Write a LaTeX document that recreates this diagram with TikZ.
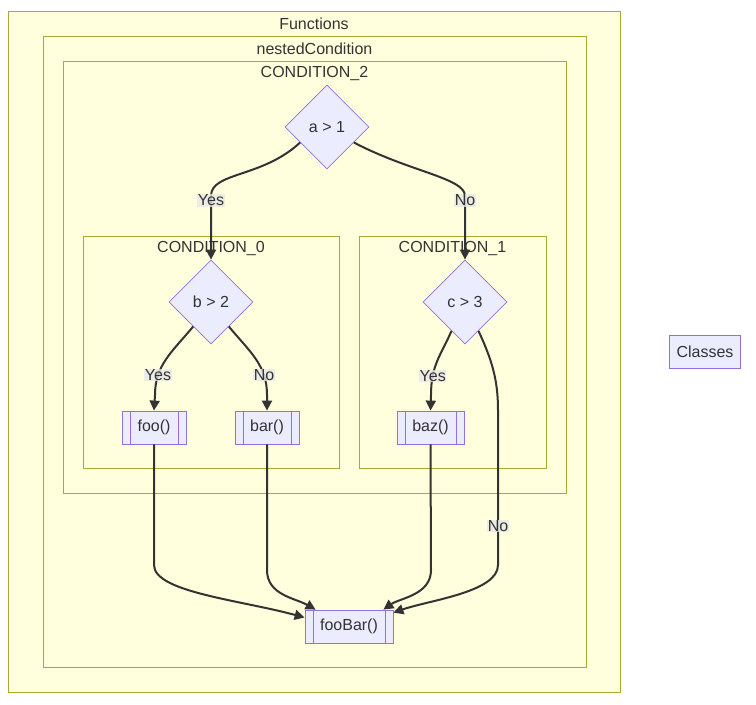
\documentclass[tikz,border=0pt]{standalone}
\usepackage{fontspec}
\setmainfont{Liberation Sans}
\usetikzlibrary{positioning,arrows.meta,shapes.geometric}
\definecolor{clusterfill}{HTML}{FFFFDE}
\definecolor{clusterline}{HTML}{AAAA33}
\definecolor{nodefill}{HTML}{ECECFF}
\definecolor{nodeline}{HTML}{9370DB}
\definecolor{ink}{HTML}{333333}
\definecolor{lblfill}{HTML}{E8E8E8}

\begin{document}
\begin{tikzpicture}[
  x=1pt, y=-1pt,
  font=\fontsize{16}{19}\selectfont, text=ink,
  cluster/.style={draw=clusterline, fill=clusterfill, line width=1pt, inner sep=0pt},
  title/.style={inner sep=0pt},
  cond/.style={diamond, draw=nodeline, fill=nodefill, line width=0.8pt, minimum width=84pt, minimum height=84pt, inner sep=0pt},
  sub/.style={draw=nodeline, fill=nodefill, line width=0.8pt, minimum height=33pt, inner sep=0pt,
    path picture={\draw[nodeline, line width=0.8pt]
      ([xshift=8pt]path picture bounding box.north west) -- ([xshift=8pt]path picture bounding box.south west)
      ([xshift=-8pt]path picture bounding box.north east) -- ([xshift=-8pt]path picture bounding box.south east);}},
  lbl/.style={fill=lblfill, fill opacity=0.8, text opacity=1, inner sep=0.5pt},
  flow/.style={-{Triangle[length=10pt,width=10pt]}, draw=ink, line width=2pt}
]
\useasboundingbox (0,0) rectangle (756,705);

% subgraphs
\node[cluster, minimum width=612pt, minimum height=681pt] (functions) at (314,351.5) {};
\node[title] at ([yshift=-13pt]functions.north) {Functions};
\node[cluster, minimum width=543pt, minimum height=631pt] (nested) at (314.5,351.5) {};
\node[title] at ([yshift=-13pt]nested.north) {nestedCondition};
\node[cluster, minimum width=503pt, minimum height=432pt] (cond2) at (314.5,277) {};
\node[title] at ([yshift=-13pt]cond2.north) {CONDITION\_2};
\node[cluster, minimum width=256pt, minimum height=232pt] (cond0) at (211,352) {};
\node[title] at ([yshift=-13pt]cond0.north) {CONDITION\_0};
\node[cluster, minimum width=187pt, minimum height=232pt] (cond1) at (452.5,352) {};
\node[title] at ([yshift=-13pt]cond1.north) {CONDITION\_1};

% nodes
\node[cond] (a1) at (327,127) {a > 1};
\node[cond] (b2) at (211,302) {b > 2};
\node[cond] (c3) at (465,302) {c > 3};
\node[sub, minimum width=64pt] (foo) at (154,427.5) {foo()};
\node[sub, minimum width=64pt] (bar) at (267,427.5) {bar()};
\node[sub, minimum width=67pt] (baz) at (430.5,427.5) {baz()};
\node[sub, minimum width=88pt] (fooBar) at (349,626.5) {fooBar()};
\node[draw=nodeline, fill=nodefill, line width=0.8pt, minimum width=71pt, minimum height=33pt] (classes) at (705,352) {Classes};

% edges
\draw[flow] (a1.-150) .. controls (262,178) and (211,172) .. (211,196) -- node[lbl, pos=0.07]{Yes} (b2.north);
\draw[flow] (a1.-30) .. controls (410,172) and (465,178) .. (465,196) -- node[lbl, pos=0.07]{No} (c3.north);
\draw[flow] (b2.-126) .. controls (172,352) and (155,365) .. node[lbl, pos=0.75]{Yes} (155,395) -- (foo.north);
\draw[flow] (b2.-54) .. controls (250,352) and (267,365) .. node[lbl, pos=0.75]{No} (267,395) -- (bar.north);
\draw[flow] (c3.-115) .. controls (441,355) and (431,365) .. node[lbl, pos=0.75]{Yes} (431,395) -- (baz.north);
\draw[flow] (c3.-65) .. controls (492,360) and (498,380) .. (498,410) -- node[lbl, pos=0.75]{No} (498,565)
  .. controls (498,592) and (430,600) .. ([yshift=-3pt]fooBar.north east);
\draw[flow] (foo.south) -- (154,565) .. controls (154,592) and (240,600) .. ([yshift=9pt]fooBar.west);
\draw[flow] (bar.south) -- (267,570) .. controls (267,595) and (295,598) .. ([xshift=11pt]fooBar.north west);
\draw[flow] (baz.south) -- (431,570) .. controls (431,595) and (400,598) .. ([xshift=-10pt]fooBar.north east);
\end{tikzpicture}
\end{document}
